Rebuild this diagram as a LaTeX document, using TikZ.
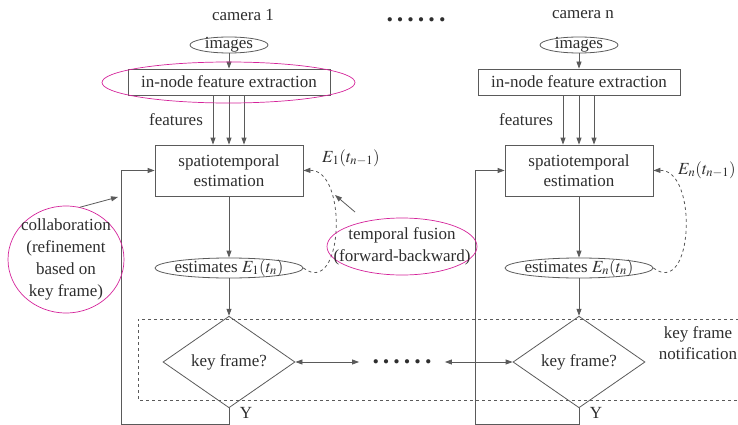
\documentclass[tikz,border=0pt]{standalone}
\usepackage{mathptmx}
\usepackage{fontspec}
\setmainfont{Liberation Serif}
\usepackage{xcolor}
\definecolor{linegray}{HTML}{5A5A5A}
\definecolor{textgray}{HTML}{2E2E2E}
\definecolor{ringpink}{HTML}{D4239A}
\usepackage{tikz}
\usetikzlibrary{arrows.meta, shapes.geometric, calc}

\newcommand{\sixdots}{\fontsize{26}{26}\bfseries.\hspace{4pt}.\hspace{4pt}.\hspace{4pt}.\hspace{4pt}.\hspace{4pt}.}

\begin{document}
\begin{tikzpicture}[x=1pt, y=-1pt, line width=0.8pt, color=linegray, text=textgray,
	font=\fontsize{17}{20}\selectfont,
	>={Triangle[length=7pt, width=5pt]},
	box/.style={draw, rectangle, inner sep=0pt},
	oval/.style={draw, ellipse, inner sep=0pt},
	ring/.style={draw=ringpink, ellipse, inner sep=0pt, line width=0.7pt},
	choice/.style={draw, diamond, inner sep=0pt, minimum width=132, minimum height=52}]
	\useasboundingbox (0,0) rectangle (738,425);
	
	\foreach \k/\x/\cx/\ex/\ey/\lx in {1/229/243/351/158/121, n/579/583/707/170/475} {
		\node (cam\k) at (\cx,15) {camera \k};
		\node[oval, minimum width=78, minimum height=16, label=center:images] (img\k) at (\x,45) {};
		\node[box, minimum width=202, minimum height=26] (fex\k) at (\x,82) {in-node feature extraction};
		\node (feat\k) at (\x-53,120) {features};
		\node[box, minimum width=148, minimum height=51, align=center] (ste\k) at (\x,170.5) {spatiotemporal\\estimation};
		\node[oval, minimum width=148, minimum height=20, label={center:estimates $E_\k(t_n)$}] (est\k) at (\x,268) {};
		\node[choice] (kf\k) at (\x,362) {key frame?};
		\node (e\k) at (\ex,\ey) {$E_\k(t_{n-1})$};
		\node (y\k) at (\x+17,413) {Y};
		\coordinate (loop\k) at (\lx,424);
		
		\draw[->] (img\k) -- (fex\k);
		\foreach \d in {-16,0,15} {\draw[->] ($(fex\k.south)+(\d,0)$) -- ($(ste\k.north)+(\d,0)$);}
		\draw[->] (ste\k) -- (est\k);
		\draw[->] (est\k) -- (kf\k);
		\draw[->, dashed] (est\k.east) .. controls +(40,30) and +(45,-1) .. (ste\k.east);
		\draw[->] (kf\k.south) |- (loop\k) |- (ste\k.west);
	}
	
	\node (dtop) at (416,20) {\sixdots};
	\node[inner xsep=13pt] (dmid) at (402,362) {\sixdots};
	\draw[<->] (kf1) -- (dmid);
	\draw[<->] (dmid) -- (kfn);
	\draw[dashed] (745,319) -| (138,400) -- (745,400);
	\node[align=center, font=\fontsize{17}{21}\selectfont] (note) at (698,343) {key frame\\notification};
	
	\node[ring, minimum width=253, minimum height=41] (fexring) at (228.5,82.5) {};
	\node[ring, minimum width=116, minimum height=107, label={[align=center, font=\fontsize{17}{22}\selectfont]center:collaboration\\(refinement\\based on\\key frame)}] (collab) at (66,259.5) {};
	\node[ring, minimum width=150, minimum height=57, label={[align=center, font=\fontsize{17}{22}\selectfont]center:temporal fusion\\(forward-backward)}] (fusion) at (402,246.5) {};
	\coordinate (collabtip) at (118,197);
	\coordinate (fusiontail) at (355,212);
	\coordinate (fusiontip) at (335,195);
	\draw[->] (collab.75) -- (collabtip);
	\draw[->] (fusiontail) -- (fusiontip);
\end{tikzpicture}
\end{document}
